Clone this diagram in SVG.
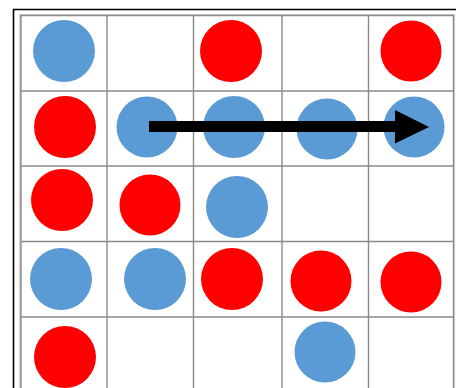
<svg xmlns="http://www.w3.org/2000/svg" width="456" height="388" viewBox="0 0 456 388">
<style>
.frame{fill:none;stroke:#000;stroke-width:1.6}
.grid line{stroke:#8a8a8a;stroke-width:1.4}
.outer{fill:none;stroke:#c8c8c8;stroke-width:1.6}
.blue{fill:#5b9bd5}
.red{fill:#ff0000}
</style>
<rect width="456" height="388" fill="#fff"/>
<path class="frame" d="M13.5,392 V9.5 H460"/>
<g class="grid">
<rect class="outer" x="20" y="15" width="434" height="380"/>
<line x1="21" y1="15" x2="21" y2="392"/>
<line x1="107" y1="15" x2="107" y2="392"/>
<line x1="193.5" y1="15" x2="193.5" y2="392"/>
<line x1="282" y1="15" x2="282" y2="392"/>
<line x1="368.5" y1="15" x2="368.5" y2="392"/>
<line x1="453.5" y1="15" x2="453.5" y2="392"/>
<line x1="21" y1="15.5" x2="454" y2="15.5"/>
<line x1="21" y1="91" x2="454" y2="91"/>
<line x1="21" y1="166" x2="454" y2="166"/>
<line x1="21" y1="241.5" x2="454" y2="241.5"/>
<line x1="21" y1="317" x2="454" y2="317"/>
</g>
<g id="r0c0"><circle class="blue" cx="64" cy="51" r="31"/></g>
<g id="r0c2"><circle class="red" cx="231" cy="51" r="31"/></g>
<g id="r0c4"><circle class="red" cx="411" cy="51" r="30.5"/></g>
<g id="r1c0"><circle class="red" cx="65" cy="127" r="31"/></g>
<g id="r1c1"><circle class="blue" cx="147" cy="127" r="30.5"/></g>
<g id="r1c2"><circle class="blue" cx="234" cy="127" r="31"/></g>
<g id="r1c3"><circle class="blue" cx="327" cy="129" r="30.5"/></g>
<g id="r1c4"><circle class="blue" cx="414" cy="127" r="30.5"/></g>
<g id="r2c0"><circle class="red" cx="62" cy="200" r="31"/></g>
<g id="r2c1"><circle class="red" cx="150" cy="205" r="30.5"/></g>
<g id="r2c2"><circle class="blue" cx="237" cy="207" r="31"/></g>
<g id="r3c0"><circle class="blue" cx="61" cy="279" r="31"/></g>
<g id="r3c1"><circle class="blue" cx="155" cy="279" r="31"/></g>
<g id="r3c2"><circle class="red" cx="232" cy="279" r="31"/></g>
<g id="r3c3"><circle class="red" cx="321" cy="281" r="30.5"/></g>
<g id="r3c4"><circle class="red" cx="411" cy="282" r="30.5"/></g>
<g id="r4c0"><circle class="red" cx="65" cy="357" r="31"/></g>
<g id="r4c3"><circle class="blue" cx="325" cy="352" r="30.5"/></g>
<g id="connectors">
<rect x="149" y="121" width="248" height="11" fill="#000"/>
<polygon points="395,110 429,127 395,143.5" fill="#000"/>
</g>
</svg>
